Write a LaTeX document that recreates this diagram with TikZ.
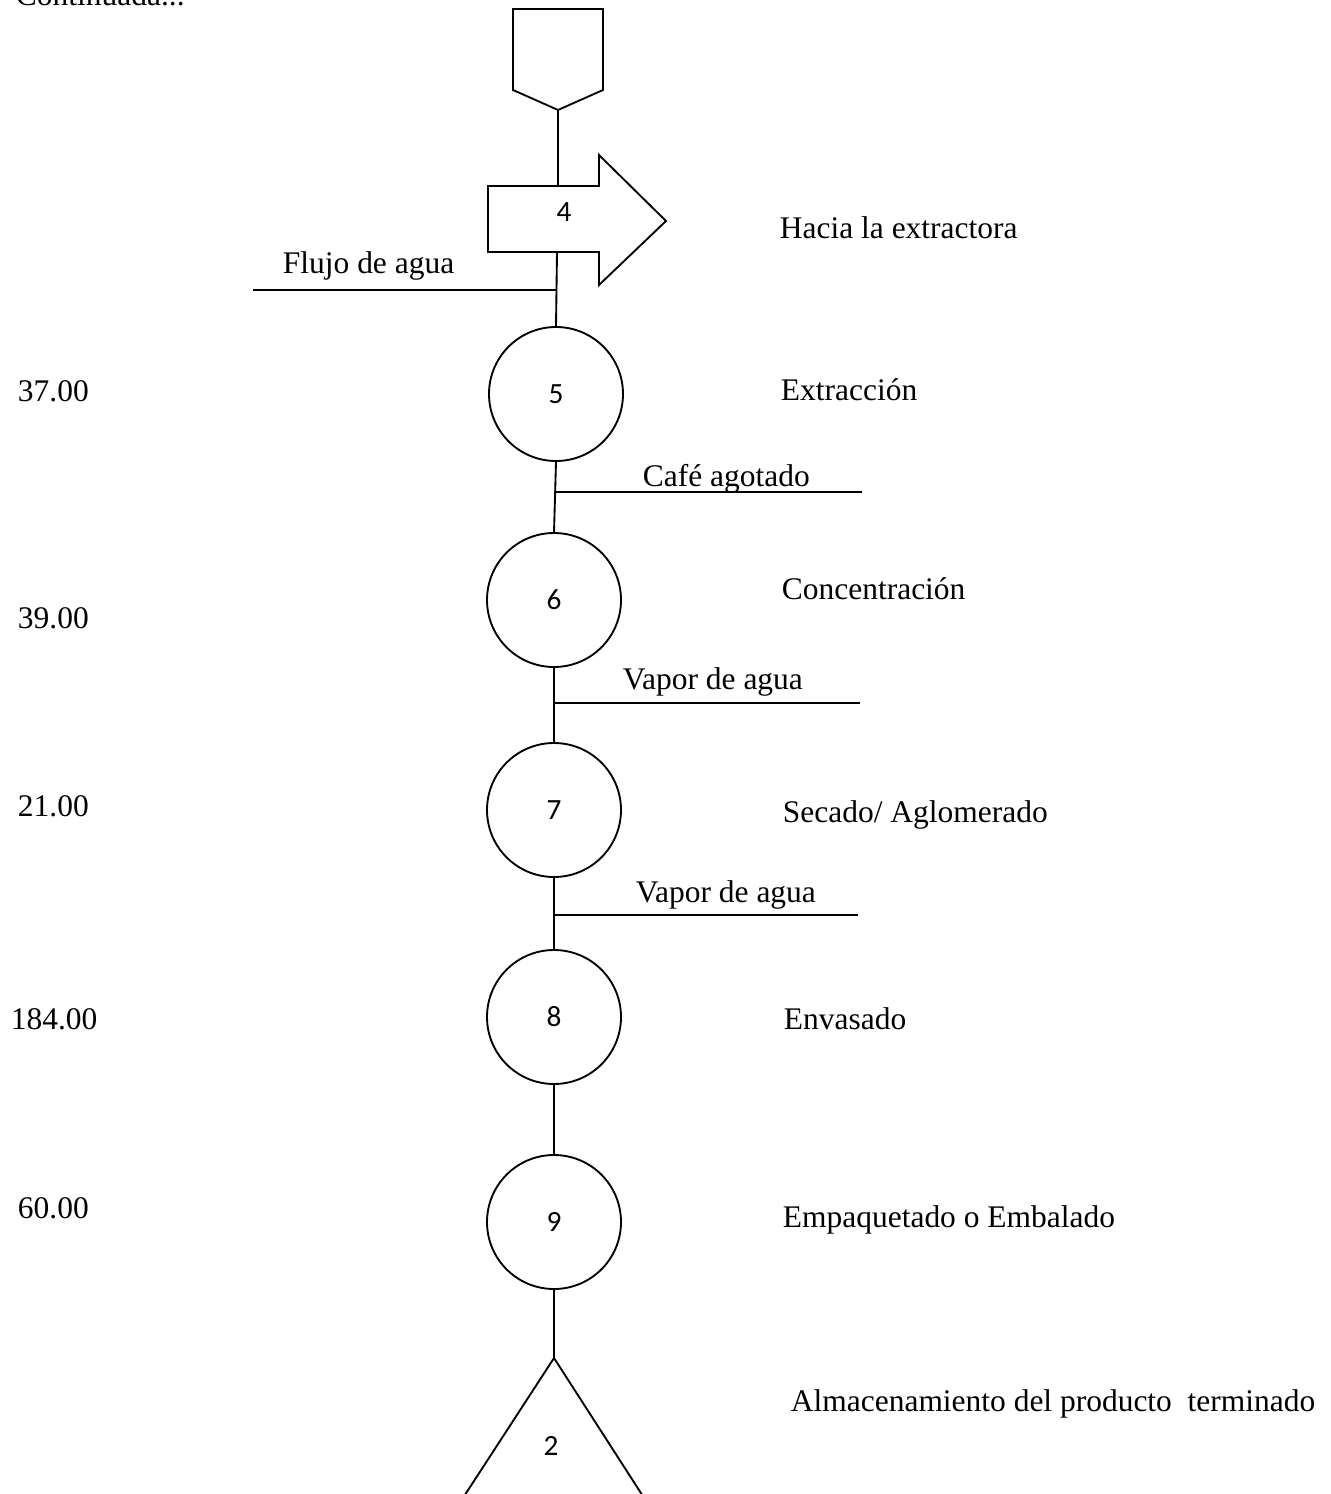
\documentclass[tikz,border=0pt]{standalone}
\usepackage{fontspec}
\setmainfont{Liberation Serif}
\newfontfamily\numfont{Carlito}
\begin{document}
\begin{tikzpicture}[x=0.75pt,y=-0.75pt,
  every path/.style={line width=1.4pt},
  lbl/.style={anchor=base west,inner sep=0pt,font=\fontsize{23.6pt}{28pt}\selectfont},
  num/.style={inner sep=0pt,font=\numfont\fontsize{22pt}{26pt}\selectfont},
  opcircle/.style={draw,circle,minimum size=100.5pt,inner sep=0pt,font=\numfont\fontsize{22pt}{26pt}\selectfont}]
\useasboundingbox (0,0) rectangle (1330,1494);
% top text (cut off at the page edge, as in the reference)
\node[lbl] (cont) at (15,6) {Continuada...};
% off-page connector
\draw (513,9) -- (603,9) -- (603,90) -- (558,110) -- (513,90) -- cycle;
\coordinate (pt) at (558,110);
% transport arrow
\draw (488,186) -- (599,186) -- (599,155) -- (666,221) -- (599,285) -- (599,252) -- (488,252) -- cycle;
\coordinate (atop) at (558,186);
\coordinate (abot) at (557,252);
\node[num] (n4) at (564,212) {4};
\draw (pt) -- (atop);
% circles
\node[opcircle] (c5) at (556,394) {5};
\node[opcircle] (c6) at (554,600) {6};
\node[opcircle] (c7) at (554,810) {7};
\node[opcircle] (c8) at (554,1017) {8};
\node[opcircle] (c9) at (554,1222) {9};
% storage triangle
\coordinate (tri) at (554,1358);
\draw (tri) -- (459,1504);
\draw (tri) -- (648,1504);
\node[num] (n2) at (551,1446) {2};
% connectors
\draw (abot) -- (c5.north);
\coordinate (fj) at (557,290);
\coordinate (fjl) at (253,290);
\draw (fjl) -- (fj);
\draw (c5.south) -- (c6.north);
\coordinate (b1) at (555,492);
\coordinate (b1e) at (862,492);
\draw (b1) -- (b1e);
\draw (c6.south) -- (c7.north);
\coordinate (b2) at (554,703);
\coordinate (b2e) at (860,703);
\draw (b2) -- (b2e);
\draw (c7.south) -- (c8.north);
\coordinate (b3) at (554,915);
\coordinate (b3e) at (858,915);
\draw (b3) -- (b3e);
\draw (c8.south) -- (c9.north);
\draw (c9.south) -- (tri);
% line labels
\node[lbl] (lflujo) at (282,274) {Flujo de agua};
\node[lbl] (lcafe) at (642,486) {Café agotado};
\node[lbl] (lvap1) at (622,689) {Vapor de agua};
\node[lbl] (lvap2) at (635,902) {Vapor de agua};
% right labels
\node[lbl] (r4) at (779,239) {Hacia la extractora};
\node[lbl] (r5) at (780,400) {Extracción};
\node[lbl] (r6) at (781,599) {Concentración};
\node[lbl] (r7) at (782,822) {Secado/ Aglomerado};
\node[lbl] (r8) at (783,1029) {Envasado};
\node[lbl] (r9) at (782,1227) {Empaquetado o Embalado};
\node[lbl] (r10) at (790,1411) {Almacenamiento del producto\ \ terminado};
% left numbers
\node[lbl] (t5) at (17,401) {37.00};
\node[lbl] (t6) at (17,628) {39.00};
\node[lbl] (t7) at (17,816) {21.00};
\node[lbl] (t8) at (10,1029) {184.00};
\node[lbl] (t9) at (17,1218) {60.00};
\end{tikzpicture}
\end{document}
